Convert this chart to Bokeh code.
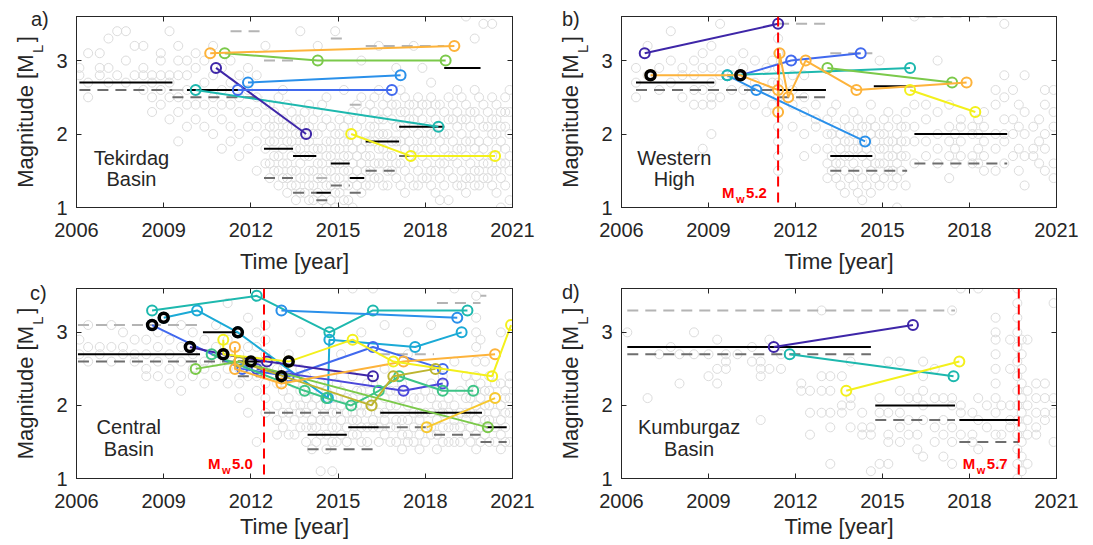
import math
from bokeh.plotting import figure
from bokeh.models import Range1d, FixedTicker, LinearAxis, Label, Span, Div
from bokeh.layouts import column, row
from bokeh.embed import file_html
from bokeh.resources import INLINE

FONT = "Liberation Sans"
INK = "#262626"
BGC = "#DCDCDC"
MC_BLACK = "#000000"
MC_DARK = "#6E6E6E"
MC_LIGHT = "#B4B4B4"
RED = "#FF0000"

PURPLE = "#3E26A8"
VIOLET = "#4B48DA"
BLUE = "#4169EE"
LBLUE = "#2A90EA"
CYAN = "#1BAAD6"
TEAL = "#1DB8AE"
MINT = "#3DC486"
GREEN = "#7BC94A"
OLIVE = "#BDB530"
ORANGE = "#FDB33B"
GOLD = "#F7C82E"
YELLOW = "#F3F01C"

x_ticks = [2006, 2009, 2012, 2015, 2018, 2021]
y_ticks = [1, 2, 3]
x_lim = (2006, 2021)
y_lim = (1, 3.6)
x_title = "Time [year]"
y_title = "Magnitude [M\u00a0\u00a0]"
y_title_sub = "L"
y_sub_at = 3.16
letters = ["a)", "b)", "c)", "d)"]

# ---------------- background catalogue (time, magnitudes) ----------------
bg_a = [
    (2006.1, [2.8, 2.9]), (2006.4, [2.5, 2.7, 3.1]), (2006.8, [2.8, 2.9, 3.1]),
    (2007.1, [2.7, 2.9, 3.3]), (2007.4, [2.8, 3.4]), (2007.7, [2.7, 3.0, 3.4]),
    (2008.0, [2.8, 3.2]), (2008.3, [2.6, 2.8, 2.9, 3.2]), (2008.6, [2.3, 2.5, 2.7, 2.8]),
    (2008.9, [2.4, 2.6, 2.8, 3.0, 3.1]), (2009.2, [2.2, 2.5, 2.7, 2.8, 3.4]),
    (2009.5, [1.9, 2.3, 2.5, 2.8, 3.0, 3.2]), (2009.8, [2.1, 2.4, 2.6, 2.8, 3.0]),
    (2010.1, [2.2, 2.4, 2.6, 2.9, 3.1]), (2010.4, [2.1, 2.4, 2.7, 3.0]),
    (2010.7, [2.0, 2.3, 2.5, 2.8, 3.2]), (2011.0, [1.8, 2.2, 2.4, 2.6, 2.9]),
    (2011.3, [1.9, 2.1, 2.4, 2.7, 3.0]), (2011.6, [1.7, 2.0, 2.3, 2.5, 2.8]),
    (2011.9, [1.8, 2.1, 2.3, 2.6, 2.9]), (2012.2, [1.5, 1.9, 2.1, 2.3, 2.5, 2.8]),
    (2012.5, [1.6, 1.8, 2.0, 2.2, 2.4, 3.2]), (2012.8, [1.5, 1.7, 1.9, 2.1, 2.3]),
    (2013.1, [1.4, 1.6, 1.8, 2.0, 2.2, 2.6]), (2013.4, [1.3, 1.5, 1.7, 1.9, 2.1, 2.3]),
    (2013.7, [1.2, 1.4, 1.6, 1.8, 2.0, 2.2, 3.4]), (2014.0, [1.1, 1.3, 1.5, 1.7, 1.9, 2.1, 2.4]),
    (2014.3, [1.2, 1.4, 1.6, 1.8, 2.0, 2.3, 3.2]), (2014.6, [1.0, 1.3, 1.5, 1.7, 1.9, 2.2, 2.5]),
    (2014.9, [1.0, 1.2, 1.4, 1.6, 1.8, 2.0, 3.4]), (2015.2, [1.1, 1.3, 1.5, 1.7, 1.9, 2.1, 2.6]),
    (2015.5, [1.0, 1.4, 1.6, 1.8, 2.0, 2.3]), (2015.8, [1.2, 1.4, 1.6, 1.8, 2.2, 2.5, 3.0]),
    (2016.1, [1.3, 1.5, 1.7, 1.9, 2.1, 2.4]), (2016.4, [1.4, 1.6, 1.8, 2.0, 2.2, 2.6, 3.2]),
    (2016.7, [1.3, 1.5, 1.7, 2.0, 2.3, 2.5]), (2017.0, [1.4, 1.6, 1.9, 2.1, 2.4, 2.9]),
    (2017.3, [1.2, 1.5, 1.8, 2.0, 2.3, 2.5]), (2017.6, [1.3, 1.6, 1.8, 2.1, 2.2, 2.4, 3.2]),
    (2017.9, [1.4, 1.7, 1.9, 2.2, 2.4, 2.9]), (2018.2, [1.3, 1.5, 1.8, 2.0, 2.3, 2.5, 2.7]),
    (2018.5, [1.1, 1.4, 1.6, 1.9, 2.1, 2.4]), (2018.8, [1.1, 1.5, 1.7, 2.0, 2.2, 2.5]),
    (2019.1, [1.3, 1.6, 1.8, 2.1, 2.3, 2.6]), (2019.4, [1.2, 1.4, 1.7, 1.9, 2.2, 2.4, 3.6]),
    (2019.7, [1.3, 1.5, 1.8, 2.0, 2.3, 2.6, 3.3]), (2020.0, [1.4, 1.6, 1.8, 2.1, 2.4, 3.5]),
    (2020.3, [1.3, 1.5, 1.7, 2.0, 2.2, 2.5, 3.5]), (2020.6, [1.0, 1.4, 1.6, 1.9, 2.1, 2.3]),
    (2020.9, [1.1, 1.5, 1.7, 2.0, 2.3, 2.6]),
    (2012.65, [1.4, 1.6, 1.9, 2.1, 2.4]), (2012.95, [1.3, 1.5, 1.7, 2.0, 2.2, 2.5]),
    (2013.25, [1.2, 1.4, 1.6, 1.9, 2.1, 2.4]), (2013.55, [1.1, 1.3, 1.5, 1.8, 2.0, 2.2]),
    (2013.85, [1.2, 1.4, 1.7, 1.9, 2.1, 2.3]), (2014.15, [1.1, 1.3, 1.5, 1.8, 2.0, 2.2]),
    (2014.45, [1.1, 1.4, 1.6, 1.8, 2.1, 2.4]), (2014.75, [1.1, 1.3, 1.5, 1.7, 1.9, 2.1]),
    (2015.05, [1.2, 1.4, 1.6, 1.8, 2.0, 2.2]), (2015.35, [1.1, 1.3, 1.5, 1.7, 1.9, 2.2]),
    (2015.65, [1.3, 1.5, 1.7, 1.9, 2.1, 2.4]), (2015.95, [1.3, 1.5, 1.7, 1.9, 2.0, 2.3]),
    (2016.25, [1.4, 1.6, 1.9, 2.1, 2.3, 2.5]), (2016.55, [1.3, 1.6, 1.8, 2.0, 2.2, 2.4]),
    (2016.85, [1.5, 1.7, 1.9, 2.2, 2.4]), (2017.15, [1.3, 1.6, 1.9, 2.1, 2.3, 2.6]),
    (2017.45, [1.4, 1.7, 1.9, 2.2, 2.4]), (2017.75, [1.3, 1.5, 1.8, 2.0, 2.3, 2.5]),
    (2018.05, [1.4, 1.6, 1.9, 2.1, 2.4]), (2018.35, [1.2, 1.5, 1.7, 2.0, 2.2, 2.4]),
    (2018.65, [1.3, 1.6, 1.8, 2.0, 2.3]), (2018.95, [1.4, 1.7, 1.9, 2.2, 2.4]),
    (2019.25, [1.3, 1.5, 1.8, 2.0, 2.2, 2.5]), (2019.55, [1.4, 1.6, 1.9, 2.1, 2.3]),
    (2019.85, [1.3, 1.5, 1.7, 1.9, 2.2, 2.5]), (2020.15, [1.4, 1.6, 1.9, 2.1, 2.3]),
    (2020.45, [1.2, 1.5, 1.8, 2.0, 2.2, 2.4]), (2020.75, [1.3, 1.6, 1.8, 2.1, 2.3, 2.5]),
]
bg_b = [
    (2006.5, [2.5, 2.7, 2.9]), (2006.9, [2.8, 3.2]), (2007.3, [2.6, 2.9]),
    (2007.7, [2.7, 3.0, 3.4]), (2008.1, [2.5, 2.8, 2.9]), (2008.5, [2.4, 2.6, 2.8, 3.0]),
    (2008.8, [1.8, 2.4, 2.6, 2.9, 3.1]), (2009.1, [2.0, 2.4, 2.5, 2.7, 2.9, 3.2]),
    (2009.4, [2.5, 2.8, 3.0, 3.5]), (2009.8, [2.6, 2.8, 3.0]), (2010.2, [2.4, 2.6, 2.9, 3.1]),
    (2010.6, [2.4, 2.7, 3.0]), (2011.0, [2.3, 2.6, 2.9]), (2011.2, [2.4, 2.7, 3.0]),
    (2011.4, [1.5, 1.7, 1.9, 2.1, 2.3, 2.5, 2.7, 2.9, 3.1, 3.3]),
    (2011.9, [2.1, 2.4, 2.6, 2.8]), (2012.3, [1.7, 2.0, 2.3, 2.5, 2.8]),
    (2012.7, [1.8, 2.1, 2.2, 2.4]), (2013.1, [1.4, 1.6, 1.8, 2.0, 2.2]),
    (2013.4, [1.4, 1.6, 1.9, 2.1, 2.4]), (2013.7, [1.2, 1.5, 1.7, 1.9, 2.2]),
    (2014.0, [1.3, 1.6, 1.8, 2.0, 2.3]), (2014.3, [1.1, 1.4, 1.7, 1.9, 2.1]),
    (2014.6, [1.2, 1.5, 1.7, 2.0, 2.2, 2.4]), (2014.9, [1.3, 1.6, 1.8, 2.0, 3.0]),
    (2015.2, [1.5, 1.7, 1.9, 2.1, 2.3]), (2015.5, [1.0, 1.4, 1.6, 1.8, 2.0, 2.2]),
    (2015.8, [1.3, 1.7, 1.9, 2.1, 2.3]), (2016.1, [1.6, 1.9, 2.1, 2.4, 3.6]),
    (2016.5, [1.7, 1.9, 2.2, 2.4]), (2016.9, [1.6, 1.8, 2.0, 2.3, 3.0]),
    (2017.3, [1.4, 1.7, 1.9, 2.1, 2.4]), (2017.7, [1.7, 1.9, 2.1, 2.2]),
    (2018.1, [1.6, 1.7, 2.0, 2.1]), (2018.5, [1.5, 1.7, 1.9, 2.1, 2.3]),
    (2018.9, [1.5, 1.8, 2.0, 2.4, 2.6]), (2019.2, [1.6, 1.9, 2.0, 2.2, 2.5, 2.8, 3.5]),
    (2019.5, [1.7, 2.0, 2.2, 2.6]), (2019.9, [1.3, 1.7, 2.0, 2.3, 2.8]),
    (2020.2, [1.7, 1.8, 2.1]), (2020.6, [1.5, 1.8, 2.0, 2.4, 2.6]),
    (2020.9, [1.4, 1.6, 2.1, 2.3, 2.6]),
    (2013.25, [1.5, 1.7, 2.0, 2.3]), (2013.55, [1.3, 1.6, 1.8, 2.0]),
    (2013.85, [1.4, 1.7, 1.9, 2.1]), (2014.15, [1.2, 1.5, 1.8, 2.0, 2.2]),
    (2014.45, [1.3, 1.6, 1.8, 2.1]), (2014.75, [1.4, 1.6, 1.9, 2.1]),
    (2015.05, [1.4, 1.6, 1.8, 2.0, 2.2]), (2015.35, [1.3, 1.5, 1.7, 1.9]),
    (2015.65, [1.5, 1.7, 1.9, 2.1]), (2017.5, [1.6, 1.8, 2.0]), (2018.3, [1.6, 1.8, 2.0, 2.2]),
    (2019.7, [1.5, 1.8, 2.1, 2.4]), (2020.4, [1.6, 1.9, 2.2]),
]
bg_c = [
    (2006.1, [2.7, 2.9]), (2006.4, [2.6, 2.8, 3.1]), (2006.8, [2.7, 2.8]),
    (2007.2, [2.6, 2.8, 3.1]), (2007.6, [2.7, 2.8, 3.0]), (2008.0, [2.6, 2.7, 2.9]),
    (2008.4, [2.4, 2.5, 2.7, 2.9]), (2008.8, [2.4, 2.6, 2.8, 3.0]), (2009.2, [2.3, 2.5, 2.7, 2.9]),
    (2009.6, [2.2, 2.4, 2.6, 2.8, 3.1]), (2010.0, [2.4, 2.5, 2.7, 3.0]),
    (2010.4, [2.3, 2.5, 2.6, 2.9]), (2010.8, [2.4, 2.6, 2.8, 3.1]),
    (2011.2, [2.3, 2.5, 2.7, 2.9, 3.4]), (2011.6, [2.1, 2.3, 2.5, 2.7, 3.0]),
    (2011.9, [1.9, 2.4, 2.6, 2.8, 3.2]), (2012.2, [1.5, 2.2, 2.4, 2.6, 2.8, 3.0]),
    (2012.5, [1.9, 2.1, 2.3, 2.5, 2.7, 2.9, 3.1]), (2012.9, [1.6, 1.8, 2.0, 2.3, 2.5]),
    (2013.3, [1.6, 1.9, 2.1, 2.4, 2.7]), (2013.7, [1.7, 1.9, 2.0, 2.2, 2.5, 3.0]),
    (2014.1, [1.4, 1.7, 1.8, 2.0, 2.2]), (2014.4, [1.1, 1.6, 1.8, 2.0, 2.3]),
    (2014.8, [1.1, 1.5, 1.7, 1.9, 2.1, 2.4]), (2015.1, [1.6, 1.8, 2.0, 2.2, 2.7]),
    (2015.5, [1.6, 1.8, 1.9, 2.1, 2.4, 3.6]), (2015.8, [1.5, 1.7, 1.9, 2.0, 2.2, 3.0]),
    (2016.2, [1.7, 1.8, 2.0, 2.1, 2.3, 3.6]), (2016.6, [1.6, 1.8, 1.9, 2.1, 2.5, 3.1]),
    (2017.0, [1.5, 1.7, 1.8, 2.0, 2.2]), (2017.4, [1.5, 1.6, 1.8, 2.0, 2.7, 3.0]),
    (2017.8, [1.4, 1.6, 1.8, 1.9, 2.1]), (2018.2, [1.6, 1.7, 1.9, 2.1, 2.3, 3.1]),
    (2018.6, [1.5, 1.7, 1.9, 2.0, 2.4]), (2019.0, [1.5, 1.7, 1.8, 2.0, 2.6, 3.6]),
    (2019.4, [1.6, 1.8, 1.9, 2.1, 2.4]),
    (2019.75, [1.4, 1.6, 1.8, 2.0, 2.2, 2.4, 2.6, 2.8, 3.0, 3.2, 3.5]),
    (2019.9, [1.5, 1.7, 1.9, 2.1, 2.3, 2.9]), (2020.2, [1.5, 1.7, 1.8, 2.0, 2.2, 2.4]),
    (2020.6, [1.4, 1.6, 1.8, 2.0, 2.3, 3.0]), (2020.9, [1.5, 1.9, 2.1, 2.3, 2.4]),
    (2013.1, [1.7, 1.9, 2.2, 2.5]), (2013.5, [1.6, 1.8, 2.0, 2.3]),
    (2013.9, [1.5, 1.7, 1.9, 2.1, 2.4]), (2014.25, [1.5, 1.7, 1.9, 2.1]),
    (2014.6, [1.4, 1.6, 1.8, 2.0, 2.2]), (2014.95, [1.5, 1.7, 1.9, 2.1, 2.3]),
    (2015.3, [1.5, 1.7, 1.9, 2.1]), (2015.65, [1.6, 1.8, 2.0, 2.2]),
    (2016.0, [1.5, 1.7, 1.9, 2.1, 2.3]), (2016.4, [1.5, 1.7, 1.9, 2.2]),
    (2016.8, [1.5, 1.7, 2.0, 2.2]), (2017.2, [1.4, 1.6, 1.8, 2.1, 2.3]),
    (2017.6, [1.5, 1.7, 1.9, 2.1]), (2018.0, [1.5, 1.7, 1.9, 2.2]),
    (2018.4, [1.4, 1.6, 1.8, 2.0, 2.2]), (2018.8, [1.5, 1.7, 1.9, 2.1]),
    (2019.2, [1.5, 1.7, 1.9, 2.2]), (2019.55, [1.5, 1.7, 1.9, 2.1, 2.3]),
    (2020.05, [1.6, 1.8, 2.0, 2.2, 2.6]), (2020.4, [1.5, 1.7, 1.9, 2.1, 2.3]),
    (2020.75, [1.5, 1.7, 1.9, 2.1, 2.2]),
]
bg_d = [
    (2006.2, [3.0]), (2006.9, [2.1]), (2007.3, [2.7]), (2007.7, [2.8]), (2008.0, [2.3, 2.7]),
    (2008.5, [2.7, 3.0]), (2009.0, [2.4, 2.7]), (2009.3, [2.3, 2.5, 2.9]),
    (2009.6, [2.5, 2.6, 2.7]), (2010.0, [2.7]), (2010.5, [2.6, 2.8]),
    (2010.8, [1.8, 2.4, 2.5, 2.6]), (2011.1, [2.5, 2.9]), (2011.5, [2.5, 2.7]),
    (2012.2, [2.2, 2.3]), (2012.5, [1.6, 1.9, 2.2]), (2012.9, [1.9, 2.2, 2.4, 3.3]),
    (2013.2, [1.2, 1.7, 1.9, 2.2, 2.4]), (2013.6, [1.9, 2.0, 2.4]), (2013.9, [1.7, 2.0, 2.1, 2.6]),
    (2014.3, [1.6, 1.7, 1.9]), (2014.6, [1.1, 1.6, 1.7]), (2014.9, [1.2, 1.9, 2.1]),
    (2015.2, [1.2, 1.5, 1.6, 1.9, 2.6]), (2015.6, [1.5, 1.7, 1.9, 2.2, 2.6]),
    (2015.9, [1.6, 1.8, 2.1]), (2016.2, [1.4, 1.6, 2.1]), (2016.4, [1.3, 1.8, 2.0, 2.2, 2.4, 2.6]),
    (2016.8, [1.5, 1.7, 2.1, 2.5]), (2017.1, [1.3, 1.6, 1.8, 2.1]),
    (2017.4, [1.2, 1.5, 1.7, 2.0, 2.1, 3.3]), (2017.7, [1.6, 1.9, 2.0, 3.6]),
    (2018.1, [1.5, 1.6, 1.9]), (2018.3, [1.4, 1.8, 2.1, 3.6]), (2018.6, [1.7, 2.0]),
    (2018.9, [1.6, 1.9, 2.1, 2.3, 2.5, 2.7, 2.9, 3.0, 3.2]), (2019.1, [1.2, 1.6, 2.0]),
    (2019.4, [1.7, 1.8, 2.0, 2.5, 2.9]),
    (2019.65, [1.0, 1.2, 1.4, 1.6, 1.8, 2.0, 2.2, 2.4, 2.6, 2.8, 3.0, 3.2, 3.4, 3.6]),
    (2019.8, [1.1, 1.3, 1.5, 1.7, 1.9, 2.1, 2.3, 2.5, 2.7, 2.9]),
    (2020.0, [1.2, 1.6, 1.8, 2.0, 2.2, 2.9]), (2020.3, [1.6, 1.7, 1.9, 2.1, 2.3]),
    (2020.6, [1.8, 1.9, 2.1, 2.3]), (2020.9, [1.5, 1.9, 2.1, 3.4]),
]

# ---------------- completeness-magnitude windows (t0, t1, Mc) ----------------
mc_black_a = [(2006.1, 2009.3, 2.7), (2009.8, 2012.4, 2.6), (2012.45, 2013.45, 1.8),
              (2013.45, 2014.25, 1.7), (2014.25, 2014.75, 1.2), (2014.75, 2015.4, 1.6),
              (2015.4, 2015.9, 1.4), (2015.95, 2017.1, 1.9), (2017.1, 2018.65, 2.1),
              (2018.65, 2019.9, 2.9)]
mc_dark_a = [(2006.1, 2009.3, 2.6), (2009.3, 2012.4, 2.5), (2012.45, 2013.45, 1.4),
             (2013.45, 2014.25, 1.2), (2014.25, 2014.75, 1.1), (2014.75, 2015.4, 1.3),
             (2015.4, 2015.9, 1.2), (2015.95, 2017.1, 1.5), (2017.1, 2018.65, 1.7),
             (2018.65, 2019.9, 1.7)]
mc_light_a = [(2009.3, 2009.8, 2.6), (2011.3, 2012.4, 3.4), (2012.45, 2013.45, 3.0),
              (2014.25, 2014.75, 1.4), (2014.75, 2015.2, 3.3), (2015.4, 2015.9, 2.4),
              (2015.95, 2018.65, 3.2)]

mc_black_b = [(2006.5, 2009.2, 2.7), (2011.4, 2013.05, 2.6), (2013.2, 2014.65, 1.7),
              (2014.7, 2016.05, 2.65), (2016.1, 2019.3, 2.0)]
mc_dark_b = [(2006.5, 2013.05, 2.6), (2011.4, 2013.05, 2.5), (2013.2, 2015.85, 1.5),
             (2016.1, 2019.3, 1.6)]
mc_light_b = [(2011.4, 2013.05, 3.5), (2013.2, 2014.65, 3.1), (2016.1, 2019.1, 3.6)]

mc_black_c = [(2006.05, 2010.25, 2.7), (2010.35, 2011.55, 3.0), (2011.55, 2012.4, 2.6),
              (2013.95, 2015.3, 1.6), (2015.35, 2016.4, 1.7), (2016.45, 2019.95, 1.9),
              (2020.1, 2020.8, 1.7)]
mc_dark_c = [(2006.05, 2011.55, 2.6), (2011.55, 2012.4, 2.4), (2012.45, 2015.1, 1.9),
             (2013.95, 2016.4, 1.4), (2016.4, 2018.05, 1.7), (2018.3, 2019.9, 1.6),
             (2019.9, 2020.8, 1.5)]
mc_light_c = [(2006.05, 2010.25, 3.1), (2016.4, 2018.3, 2.7), (2018.4, 2019.9, 3.4),
              (2019.9, 2020.1, 3.5)]

mc_black_d = [(2006.2, 2014.6, 2.8), (2014.75, 2017.5, 2.0), (2017.65, 2019.7, 1.8)]
mc_dark_d = [(2006.2, 2014.6, 2.7), (2014.75, 2017.5, 1.8), (2017.65, 2019.7, 1.5)]
mc_light_d = [(2006.2, 2017.5, 3.3)]

# ---------------- repeating-event sequences (colour, times, magnitudes) ----------------
seq_a = [
    (TEAL, [2010.1, 2018.45], [2.6, 2.1]),
    (PURPLE, [2010.8, 2013.9], [2.9, 2.0]),
    (BLUE, [2011.55, 2016.85], [2.6, 2.6]),
    (LBLUE, [2011.9, 2017.15], [2.7, 2.8]),
    (GREEN, [2011.1, 2014.3, 2018.7], [3.1, 3.0, 3.0]),
    (ORANGE, [2010.6, 2019.0], [3.1, 3.2]),
    (YELLOW, [2015.45, 2017.5, 2020.4], [2.0, 1.7, 1.7]),
]
seq_b = [
    (PURPLE, [2006.8, 2011.4], [3.1, 3.5]),
    (BLUE, [2010.1, 2011.85, 2014.25], [2.8, 3.0, 3.1]),
    (LBLUE, [2009.65, 2010.65, 2014.4], [2.8, 2.6, 1.9]),
    (TEAL, [2009.65, 2015.95], [2.8, 2.9]),
    (GREEN, [2013.1, 2017.4], [2.9, 2.7]),
    (ORANGE, [2007.0, 2010.1, 2011.4, 2011.4, 2011.45, 2011.75, 2012.35, 2014.1, 2017.9],
     [2.8, 2.8, 2.6, 2.3, 3.1, 2.5, 3.0, 2.6, 2.7]),
    (YELLOW, [2015.95, 2018.2], [2.6, 2.3]),
]
seq_c = [
    (TEAL, [2008.6, 2012.2, 2014.7, 2016.2, 2019.45], [3.3, 3.5, 3.0, 3.3, 3.3]),
    (CYAN, [2009.0, 2010.15, 2011.55, 2014.65, 2014.7, 2017.65, 2019.25],
     [3.2, 3.3, 3.0, 2.1, 2.9, 2.8, 3.0]),
    (LBLUE, [2013.05, 2019.1], [3.3, 3.2]),
    (BLUE, [2008.6, 2011.7, 2013.3, 2016.2, 2018.6], [3.1, 2.5, 2.4, 2.8, 2.5]),
    (PURPLE, [2009.9, 2011.05, 2012.55, 2016.2], [2.8, 2.7, 2.6, 2.4]),
    (VIOLET, [2012.2, 2017.25, 2018.6], [2.5, 2.2, 2.3]),
    (MINT, [2010.65, 2013.85, 2014.6, 2015.45, 2016.4, 2017.1, 2018.6, 2019.65],
     [2.7, 2.2, 2.1, 2.0, 2.2, 2.4, 2.2, 2.2]),
    (GREEN, [2010.1, 2011.6, 2020.15], [2.5, 2.6, 1.7]),
    (OLIVE, [2011.6, 2016.15, 2016.9, 2018.35], [2.6, 2.0, 2.4, 2.5]),
    (ORANGE, [2011.45, 2011.45, 2013.05, 2017.25, 2020.4], [2.8, 2.5, 2.3, 2.6, 2.7]),
    (YELLOW, [2011.05, 2011.05, 2013.3, 2015.5, 2016.9, 2020.3, 2020.95],
     [2.9, 2.7, 2.6, 2.9, 2.6, 2.4, 3.1]),
    (GOLD, [2018.05, 2020.4], [1.7, 2.1]),
]
seq_d = [
    (PURPLE, [2011.25, 2016.05], [2.8, 3.1]),
    (TEAL, [2011.8, 2017.45], [2.7, 2.4]),
    (YELLOW, [2013.75, 2017.65], [2.2, 2.6]),
]

# first events of sequences shown in black
first_b_t = [2007.0, 2010.1]
first_b_m = [2.8, 2.8]
first_c_t = [2008.6, 2009.0, 2009.9, 2011.05, 2011.55, 2012.0, 2013.05, 2013.3]
first_c_m = [3.1, 3.2, 2.8, 2.7, 3.0, 2.6, 2.4, 2.6]

# large earthquakes
event_b = (2011.4, "5.2")
event_c = (2012.45, "5.0")
event_d = (2019.7, "5.7")

NBSP = "\u00a0"


def lab(p, text, x, y, dx=0, dy=0, size="20px", bold=False, color=INK, align="left"):
    p.add_layout(Label(x=x, y=y, x_offset=dx, y_offset=dy, text=text, text_font=FONT,
                       text_font_size=size, text_font_style="bold" if bold else "normal",
                       text_color=color, text_align=align, text_baseline="alphabetic"))


def base_axis(ax, ticks):
    ax.ticker = FixedTicker(ticks=ticks)
    ax.major_tick_in = 5
    ax.major_tick_out = 0
    ax.minor_tick_line_color = None
    ax.axis_line_color = INK
    ax.major_tick_line_color = INK
    ax.major_label_text_font = FONT
    ax.major_label_text_color = INK
    ax.major_label_text_font_size = "20px"


def make_panel(w, h, bl, br, bt, bb, region, bg, mcb, mcd, mcl, seqs,
               first_t=None, first_m=None, event=None, tick_gap=15, title_gap=9):
    p = figure(width=w, height=h, x_range=Range1d(*x_lim), y_range=Range1d(*y_lim),
               output_backend="svg", toolbar_location=None, title=None,
               min_border_left=bl, min_border_right=br, min_border_top=bt,
               min_border_bottom=bb)
    p.grid.visible = False
    p.outline_line_color = INK

    # bottom axis with tick labels and title
    xb = p.xaxis[0]
    base_axis(xb, x_ticks)
    xb.major_label_standoff = tick_gap
    xb.axis_label = x_title
    xb.axis_label_text_font = FONT
    xb.axis_label_text_font_size = "22px"
    xb.axis_label_text_font_style = "normal"
    xb.axis_label_text_color = INK
    xb.axis_label_standoff = title_gap

    # left axis with tick labels
    yl = p.yaxis[0]
    base_axis(yl, y_ticks)
    yl.major_label_standoff = 9

    # outer left axis carrying the y title and its subscript
    ysub = LinearAxis(ticker=FixedTicker(ticks=[y_sub_at]),
                      major_label_overrides={y_sub_at: y_title_sub})
    ysub.axis_line_color = None
    ysub.major_tick_line_color = None
    ysub.minor_tick_line_color = None
    ysub.major_label_orientation = "vertical"
    ysub.major_label_text_font = FONT
    ysub.major_label_text_font_size = "15px"
    ysub.major_label_text_color = INK
    ysub.major_label_standoff = 1
    ysub.axis_label = y_title
    ysub.axis_label_text_font = FONT
    ysub.axis_label_text_font_size = "22px"
    ysub.axis_label_text_font_style = "normal"
    ysub.axis_label_text_color = INK
    ysub.axis_label_standoff = -11
    p.add_layout(ysub, "left")

    # top axis: inward ticks only
    xt = LinearAxis()
    base_axis(xt, x_ticks)
    xt.major_label_overrides = {t: (NBSP if t == x_ticks[0] else "") for t in x_ticks}
    xt.major_label_standoff = -16
    p.add_layout(xt, "above")

    # right axis: inward ticks only
    yr = LinearAxis()
    base_axis(yr, y_ticks)
    yr.major_label_overrides = {t: "" for t in y_ticks}
    yr.major_label_standoff = 0
    p.add_layout(yr, "right")

    # background catalogue
    bx = [t for t, ms in bg for _ in ms]
    by = [m for _, ms in bg for m in ms]
    p.scatter(bx, by, marker="circle", size=9, fill_color=None, line_color=BGC, line_width=1)

    # Mc windows
    for segs, col, dash in ((mcl, MC_LIGHT, "11 7"), (mcd, MC_DARK, "11 7"), (mcb, MC_BLACK, "solid")):
        if segs:
            p.segment(x0=[s[0] for s in segs], y0=[s[2] for s in segs],
                      x1=[s[1] for s in segs], y1=[s[2] for s in segs],
                      line_color=col, line_width=2, line_dash=dash)

    if event is not None:
        p.add_layout(Span(location=event[0], dimension="height", line_color=RED,
                          line_width=2, line_dash="10 6"))
        lab(p, "M", event[0], y_lim[0], dx=-56, dy=15, size="15px", bold=True, color=RED)
        lab(p, "w", event[0], y_lim[0], dx=-42, dy=9, size="11px", bold=True, color=RED)
        lab(p, event[1], event[0], y_lim[0], dx=-32, dy=15, size="15px", bold=True, color=RED)

    for col, ts, ms in seqs:
        p.line(ts, ms, line_color=col, line_width=2)
        p.scatter(ts, ms, marker="circle", size=10, fill_color=None, line_color=col, line_width=2)

    if first_t:
        p.scatter(first_t, first_m, marker="circle", size=9, fill_color=None,
                  line_color="black", line_width=3.5)

    lab(p, region[0], region[2], region[3], size="20px", align="center")
    lab(p, region[1], region[2], region[4], size="20px", align="center")
    return p


def letter_div(text, top, back):
    # zero-net-width overlay that places the panel letter left of the previous figure's frame
    return Div(text=text, width=22, height=24, margin=(top, back - 22, 0, -back),
               styles={"font-family": FONT, "font-size": "20px", "color": INK,
                       "line-height": "24px", "position": "relative", "z-index": "10"})


pa = make_panel(548, 279, 76, 36, 16, 72, ("Tekirdag", "Basin", 2007.89, 1.67, 1.39),
                bg_a, mc_black_a, mc_dark_a, mc_light_a, seq_a)
pb = make_panel(542, 279, 73, 34, 16, 72, ("Western", "High", 2007.82, 1.68, 1.39),
                bg_b, mc_black_b, mc_dark_b, mc_light_b, seq_b, first_b_t, first_b_m, event_b)
pc = make_panel(548, 265, 76, 36, 9, 66, ("Central", "Basin", 2007.80, 1.70, 1.40),
                bg_c, mc_black_c, mc_dark_c, mc_light_c, seq_c, first_c_t, first_c_m, event_c,
                tick_gap=15, title_gap=3)
pd = make_panel(542, 265, 73, 34, 9, 66, ("Kumburgaz", "Basin", 2008.33, 1.70, 1.40),
                bg_d, mc_black_d, mc_dark_d, mc_light_d, seq_d, None, None, event_d,
                tick_gap=15, title_gap=3)

top_row = row(pa, letter_div(letters[0], 7, 517), pb, letter_div(letters[1], 7, 528))
bottom_row = row(pc, letter_div(letters[2], 2, 518), pd, letter_div(letters[3], 1, 528))
layout = column(top_row, bottom_row)
open("out.html", "w").write(file_html(layout, INLINE))
